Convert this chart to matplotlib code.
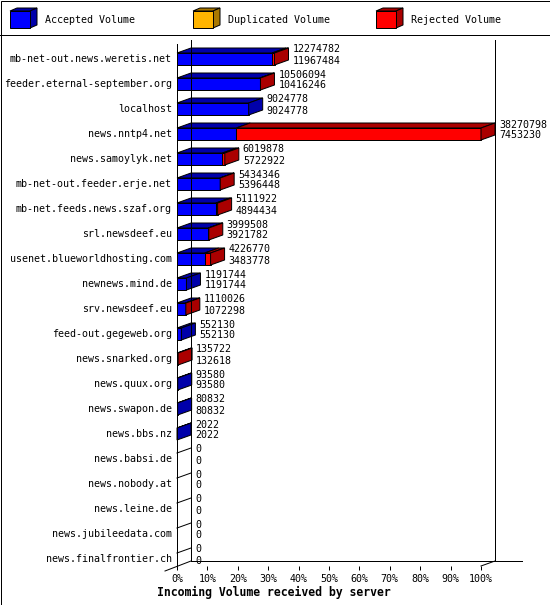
import matplotlib
matplotlib.use("Agg")
import matplotlib.pyplot as plt
import matplotlib.transforms as mtransforms
from matplotlib.patches import Polygon, Rectangle
import numpy as np

# incoming volume per server (bytes)
servers = ["mb-net-out.news.weretis.net", "feeder.eternal-september.org", "localhost",
           "news.nntp4.net", "news.samoylyk.net", "mb-net-out.feeder.erje.net",
           "mb-net.feeds.news.szaf.org", "srl.newsdeef.eu", "usenet.blueworldhosting.com",
           "newnews.mind.de", "srv.newsdeef.eu", "feed-out.gegeweb.org", "news.snarked.org",
           "news.quux.org", "news.swapon.de", "news.bbs.nz", "news.babsi.de",
           "news.nobody.at", "news.leine.de", "news.jubileedata.com", "news.finalfrontier.ch"]
offered = [12274782, 10506094, 9024778, 38270798, 6019878, 5434346, 5111922, 3999508,
           4226770, 1191744, 1110026, 552130, 135722, 93580, 80832, 2022, 0, 0, 0, 0, 0]
accepted = [11967484, 10416246, 9024778, 7453230, 5722922, 5396448, 4894434, 3921782,
            3483778, 1191744, 1072298, 552130, 132618, 93580, 80832, 2022, 0, 0, 0, 0, 0]
duplicated = [0, 0, 0, 0, 0, 0, 0, 0, 0, 0, 0, 0, 0, 0, 0, 0, 0, 0, 0, 0, 0]

legend_names = ["Accepted Volume", "Duplicated Volume", "Rejected Volume"]
front_col = ["#0000ff", "#ffb400", "#ff0000"]
dark_col = ["#0000aa", "#aa7800", "#aa0000"]

plt.rcParams['font.family'] = ['DejaVu Sans Mono']
LW = 0.72
FS = 7.2

fig = plt.figure(figsize=(5.5, 6.05), dpi=100)

# background canvas in pixels for frame + legend
bg = fig.add_axes([0, 0, 1, 1])
bg.set_xlim(0, 550)
bg.set_ylim(605, 0)
bg.axis('off')
bg.add_patch(Rectangle((0.5, 0.5), 549, 604, fill=False, ec='black', lw=LW))
bg.plot([0, 550], [34.5, 34.5], color='black', lw=LW)
for k, lx in enumerate([10, 193, 376]):
    bg.add_patch(Polygon([(lx, 11), (lx + 20, 11), (lx + 27, 8), (lx + 7, 8)],
                         fc=dark_col[k], ec='black', lw=LW))
    bg.add_patch(Polygon([(lx + 20, 11), (lx + 27, 8), (lx + 27, 25), (lx + 20, 28)],
                         fc=dark_col[k], ec='black', lw=LW))
    bg.add_patch(Rectangle((lx, 11), 20, 17, fc=front_col[k], ec='black', lw=LW))
    bg.text(lx + 35, 20, legend_names[k], fontsize=FS, va='center', ha='left')

# main plot: front plane 177..481 px, rows 25 px apart
maxv = max(offered)
ax = fig.add_axes([177 / 550, (605 - 566) / 605, 304 / 550, 526 / 605])
ax.set_xlim(0, maxv)
ax.set_ylim(20.28, -0.76)
ax.patch.set_visible(False)
for s in ax.spines.values():
    s.set_visible(False)
ax.set_yticks([])
ax.set_xticks(np.linspace(0, maxv, 11))
ax.set_xticklabels([f"{p}%" for p in range(0, 101, 10)])
ax.tick_params(axis='x', direction='out', length=3, width=LW, pad=2.5, labelsize=FS)

DX = 14 / 304 * maxv   # depth in x
DY = 0.2               # depth in rows (5 px)
H = 0.48               # bar height (12 px)

def off(x, y):
    return mtransforms.offset_copy(ax.transData, fig=fig, x=x, y=y, units='dots')

for i, name in enumerate(servers):
    top, bot = i - H / 2, i + H / 2
    segs = [accepted[i], duplicated[i], offered[i] - accepted[i] - duplicated[i]]
    start = 0
    last = None
    for k, v in enumerate(segs):
        if v <= 0:
            continue
        ax.add_patch(Polygon([(start, top), (start + v, top), (start + v + DX, top - DY),
                              (start + DX, top - DY)], fc=dark_col[k], ec='black',
                             lw=LW, clip_on=False))
        ax.add_patch(Rectangle((start, top), v, H, fc=front_col[k], ec='black',
                               lw=LW, clip_on=False))
        start += v
        last = k
    if last is None:
        ax.plot([0, DX], [top, top - DY], color='black', lw=LW, clip_on=False)
    else:
        ax.add_patch(Polygon([(start, top), (start + DX, top - DY), (start + DX, bot - DY),
                              (start, bot)], fc=dark_col[last], ec='black', lw=LW,
                             clip_on=False))
    ax.text(0, i, name, fontsize=FS, ha='right', va='center', transform=off(-5, 0))
    ax.text(offered[i] + DX, i, str(offered[i]), fontsize=FS, ha='left', va='center',
            transform=off(4, 9.5))
    ax.text(offered[i] + DX, i, str(accepted[i]), fontsize=FS, ha='left', va='center',
            transform=off(4, -1.5))

# walls and floor
yb = 20.28
ax.plot([0, 0], [-0.6, yb], color='black', lw=LW, clip_on=False)
ax.plot([DX, DX], [-0.76, yb - DY], color='black', lw=LW, clip_on=False)
ax.plot([maxv + DX, maxv + DX], [-0.76, yb - DY], color='black', lw=LW, clip_on=False)
ax.plot([DX, maxv + DX + 27 / 304 * maxv], [yb - DY, yb - DY], color='black', lw=LW,
        clip_on=False)
ax.plot([-12 / 304 * maxv, DX], [yb + DY, yb - DY], color='black', lw=LW, clip_on=False)
ax.plot([maxv, maxv + DX], [yb, yb - DY], color='black', lw=LW, clip_on=False)

fig.text(157 / 550, 1 - 592 / 605, "Incoming Volume received by server", fontsize=8.3,
         fontweight='bold', ha='left', va='center')

fig.savefig("out.png", dpi=100)
